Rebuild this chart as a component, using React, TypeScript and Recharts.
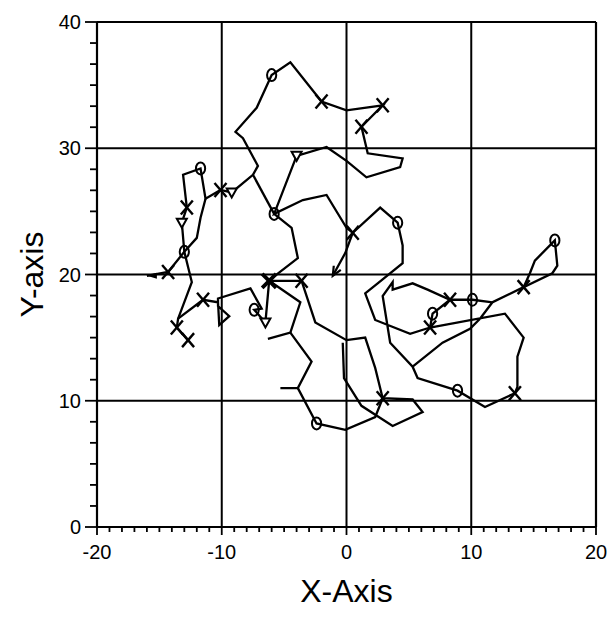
import { ScatterChart, Scatter, XAxis, YAxis, ReferenceLine, Label } from 'recharts'

// walk, in axis units
const trackMain = [
  [-16.0, 19.9], [-14.3, 20.2], [-13.0, 21.8], [-13.2, 24.1], [-12.8, 25.3], [-13.1, 27.9],
  [-11.7, 28.4], [-11.3, 26.0], [-10.1, 26.7], [-9.2, 26.5], [-7.5, 27.9], [-7.1, 28.6],
  [-8.3, 30.8], [-8.9, 31.3], [-7.2, 33.2], [-6.0, 35.8], [-4.5, 36.8], [-2.0, 33.7],
  [0.0, 33.0], [2.9, 33.4], [1.2, 31.7], [1.7, 29.6], [4.5, 29.2], [4.3, 28.5],
  [1.6, 27.7], [0.0, 29.0], [-1.6, 30.1], [-4.0, 29.4], [-5.8, 24.8], [-3.5, 25.9],
  [-1.6, 26.3], [0.0, 23.7], [0.5, 23.3], [2.7, 25.3], [4.1, 24.1], [4.5, 22.3],
  [4.5, 20.9], [2.5, 19.3], [1.5, 18.5], [2.3, 16.4], [5.1, 15.3], [6.7, 15.8],
  [12.7, 16.9], [14.2, 15.0], [13.7, 13.5], [13.7, 11.1], [13.5, 10.6], [11.1, 9.5],
  [8.9, 10.8], [5.7, 11.8], [5.3, 12.7], [3.5, 14.6], [2.9, 18.3], [3.7, 19.4],
  [3.7, 18.8], [5.3, 19.3], [6.5, 18.8], [8.3, 18.0], [10.1, 18.0], [11.7, 17.8],
  [14.2, 19.0], [14.7, 20.1], [15.1, 21.1], [16.7, 22.7], [16.9, 20.7], [16.5, 20.1],
  [11.7, 17.8], [10.7, 16.5], [9.9, 15.7], [7.7, 14.6], [5.3, 12.7],
]
const trackWest = [
  [-11.3, 26.0], [-11.7, 24.5], [-12.0, 22.9], [-13.0, 21.8], [-12.7, 20.6], [-12.4, 19.4],
  [-13.5, 16.5], [-13.6, 15.8], [-12.7, 14.8],
]
const trackCentre = [
  [-13.5, 16.5], [-11.5, 18.0], [-10.3, 17.8], [-10.2, 16.0], [-9.4, 16.7], [-10.3, 17.5],
  [-10.3, 18.1], [-7.7, 18.9], [-6.8, 17.3], [-7.4, 17.2], [-6.5, 16.2], [-6.2, 19.5],
  [-3.6, 19.5], [-2.5, 16.2], [0.0, 14.8], [1.5, 15.0], [2.3, 12.6], [2.9, 10.2],
  [5.3, 10.1], [6.1, 9.1], [3.7, 8.0], [1.2, 9.6], [-0.2, 11.8], [-0.3, 14.6],
]
const trackLink = [[-5.8, 24.8], [-4.4, 23.7], [-3.9, 21.3], [-6.0, 19.7], [-6.2, 19.5]]
const trackSouth = [[-6.2, 19.5], [-3.7, 17.8], [-4.5, 15.4], [-6.3, 14.9]]
const trackSpur = [[-4.5, 15.4], [-2.8, 13.1], [-3.9, 11.0], [-5.3, 11.0]]
const trackBottom = [[-3.9, 11.0], [-2.4, 8.2], [-0.1, 7.7], [2.3, 8.7], [2.9, 10.2]]
const trackArrow = [[0.5, 23.3], [-0.1, 21.7], [-1.1, 19.9]]
const trackJoin = [[-7.5, 27.9], [-5.8, 24.8]]
const trackRing = [[6.7, 15.8], [6.9, 16.9], [8.3, 18.0]]

const crossPts = [
  [-14.3, 20.2], [-12.8, 25.3], [-10.1, 26.7], [-2.0, 33.7], [2.9, 33.4], [1.2, 31.7],
  [0.5, 23.3], [-13.6, 15.8], [-12.7, 14.8], [-11.5, 18.0], [-3.6, 19.5], [2.9, 10.2],
  [6.7, 15.8], [13.5, 10.6], [8.3, 18.0], [14.2, 19.0],
]
const boldCrossPts = [[-6.2, 19.5]]
const circlePts = [
  [-13.0, 21.8], [-11.7, 28.4], [-6.0, 35.8], [-5.8, 24.8], [4.1, 24.1], [-7.4, 17.2],
  [-2.4, 8.2], [8.9, 10.8], [6.9, 16.9], [10.1, 18.0], [16.7, 22.7],
]
const trianglePts = [[-13.2, 24.1], [-9.2, 26.5], [-4.0, 29.4], [-6.5, 16.2]]
const arrowWestPts = [[-16.0, 19.9]]
const arrowSouthWestPts = [[-1.1, 19.9]]

const xMajor = [-20, -10, 0, 10, 20]
const yMajor = [0, 10, 20, 30, 40]
const xTicks = Array.from({ length: 41 }, (_, i) => i - 20)
const yTicks = Array.from({ length: 25 }, (_, i) => (i * 10) / 6)
const xGrid = [-10, 0, 10]
const yGrid = [10, 20, 30]

const FONT = '"Liberation Sans", Arial, Helvetica, sans-serif'

const toPts = (a: number[][]) => a.map(([x, y]) => ({ x, y }))

const isMajor = (v: number, majors: number[]) => majors.some((m) => Math.abs(m - v) < 1e-6)

const XTick = ({ x, y, payload }: any) => {
  const major = isMajor(payload.value, xMajor)
  return (
    <g>
      <line x1={x} y1={y} x2={x} y2={y + (major ? 8 : 5)} stroke="#000" strokeWidth={1.8} />
      {major && (
        <text x={x} y={y + 32} textAnchor="middle" fontSize={20} fontFamily={FONT} fill="#000">
          {payload.value}
        </text>
      )}
    </g>
  )
}

const YTick = ({ x, y, payload }: any) => {
  const major = isMajor(payload.value, yMajor)
  const label = Math.round(payload.value)
  return (
    <g>
      <line x1={x} y1={y} x2={x - (major ? 12 : 7)} y2={y} stroke="#000" strokeWidth={1.8} />
      {major && (
        <text x={x - 16} y={y + 7} textAnchor="end" fontSize={20} fontFamily={FONT} fill="#000">
          {label}
        </text>
      )}
    </g>
  )
}

const NoDot = () => <g />

const Cross = ({ cx, cy }: any) => (
  <g stroke="#000" strokeWidth={2.4}>
    <line x1={cx - 6} y1={cy - 7} x2={cx + 6} y2={cy + 7} />
    <line x1={cx - 6} y1={cy + 7} x2={cx + 6} y2={cy - 7} />
  </g>
)

const BoldCross = ({ cx, cy }: any) => (
  <g stroke="#000" strokeWidth={3.8}>
    <line x1={cx - 7} y1={cy - 7} x2={cx + 7} y2={cy + 7} />
    <line x1={cx - 7} y1={cy + 7} x2={cx + 7} y2={cy - 7} />
  </g>
)

const Circle = ({ cx, cy }: any) => (
  <ellipse cx={cx} cy={cy} rx={4.6} ry={6} fill="none" stroke="#000" strokeWidth={2} />
)

const Triangle = ({ cx, cy }: any) => (
  <polygon
    points={`${cx - 5},${cy - 4} ${cx + 5},${cy - 4} ${cx},${cy + 5}`}
    fill="#fff"
    stroke="#000"
    strokeWidth={2}
  />
)

const ArrowWest = ({ cx, cy }: any) => (
  <polygon points={`${cx},${cy} ${cx + 10},${cy - 3} ${cx + 10},${cy + 3}`} fill="#000" />
)

const ArrowSouthWest = ({ cx, cy }: any) => (
  <polyline
    points={`${cx + 8},${cy - 6} ${cx},${cy} ${cx + 1},${cy - 10}`}
    fill="none"
    stroke="#000"
    strokeWidth={2.2}
  />
)

const lineStyle = { stroke: '#000', strokeWidth: 2.3 }

const tracks = [trackMain, trackWest, trackCentre, trackLink, trackSouth, trackSpur, trackBottom, trackArrow, trackJoin, trackRing]

export default function App() {
  return (
    <div style={{ position: 'absolute', left: 0, top: 0, width: 607, height: 626, background: '#fff' }}>
      <ScatterChart width={607} height={626} margin={{ top: 22, right: 11, bottom: 0, left: 0 }}>
        <XAxis
          type="number"
          dataKey="x"
          domain={[-20, 20]}
          ticks={xTicks}
          interval={0}
          tickSize={0}
          tickMargin={0}
          tick={<XTick />}
          axisLine={{ stroke: '#000', strokeWidth: 2.2 }}
          height={99}
          allowDataOverflow
        >
          <Label
            value="X-Axis"
            position="insideBottom"
            offset={24}
            style={{ fontSize: 32, fontFamily: FONT, fill: '#000' }}
          />
        </XAxis>
        <YAxis
          type="number"
          dataKey="y"
          domain={[0, 40]}
          ticks={yTicks}
          interval={0}
          tickSize={0}
          tickMargin={0}
          tick={<YTick />}
          axisLine={{ stroke: '#000', strokeWidth: 2.2 }}
          width={97}
          allowDataOverflow
        >
          <Label
            value="Y-axis"
            angle={-90}
            position="insideLeft"
            offset={32}
            style={{ fontSize: 32, fontFamily: FONT, fill: '#000', textAnchor: 'middle' }}
          />
        </YAxis>
        {xGrid.map((v) => (
          <ReferenceLine key={`gx${v}`} x={v} stroke="#000" strokeWidth={2} />
        ))}
        {yGrid.map((v) => (
          <ReferenceLine key={`gy${v}`} y={v} stroke="#000" strokeWidth={2} />
        ))}
        <ReferenceLine x={20} stroke="#000" strokeWidth={2.2} />
        <ReferenceLine y={40} stroke="#000" strokeWidth={2.2} />
        {tracks.map((t, i) => (
          <Scatter
            key={`t${i}`}
            data={toPts(t)}
            line={lineStyle}
            lineJointType="linear"
            shape={NoDot}
            isAnimationActive={false}
          />
        ))}
        <Scatter data={toPts(crossPts)} shape={Cross} isAnimationActive={false} />
        <Scatter data={toPts(boldCrossPts)} shape={BoldCross} isAnimationActive={false} />
        <Scatter data={toPts(circlePts)} shape={Circle} isAnimationActive={false} />
        <Scatter data={toPts(trianglePts)} shape={Triangle} isAnimationActive={false} />
        <Scatter data={toPts(arrowWestPts)} shape={ArrowWest} isAnimationActive={false} />
        <Scatter data={toPts(arrowSouthWestPts)} shape={ArrowSouthWest} isAnimationActive={false} />
      </ScatterChart>
    </div>
  )
}
